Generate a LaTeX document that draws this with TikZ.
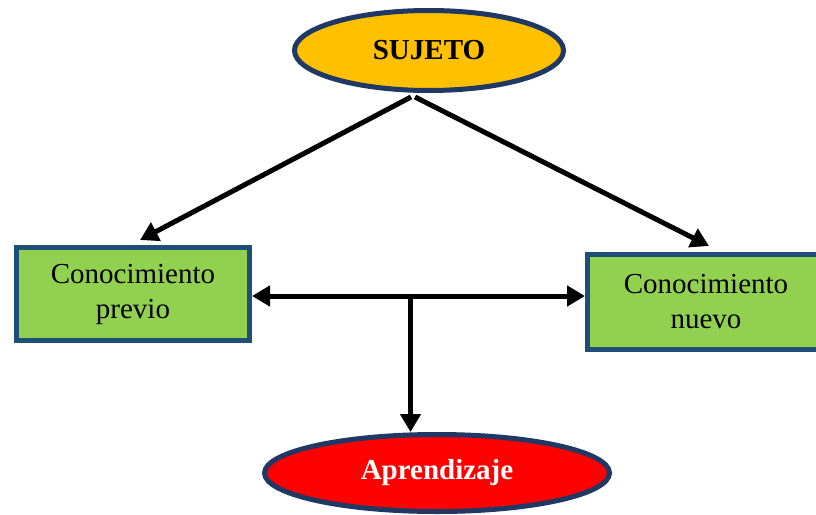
\documentclass[tikz,border=0pt]{standalone}
\usepackage{fontspec}
\setmainfont{Liberation Serif}
\usetikzlibrary{shapes.geometric,arrows.meta}
\definecolor{navyb}{HTML}{203864}
\definecolor{boxb}{HTML}{1F4E79}
\definecolor{gold}{HTML}{FFC000}
\definecolor{grn}{HTML}{92D050}
\definecolor{redf}{HTML}{FF0000}
\begin{document}
\begin{tikzpicture}[x=1pt,y=-1pt,
  ov/.style={ellipse, draw=navyb, line width=5pt, inner sep=0pt, font=\fontsize{29}{35}\selectfont\bfseries},
  bx/.style={rectangle, draw=boxb, fill=grn, line width=5pt, align=center, inner sep=0pt, font=\fontsize{29}{35}\selectfont},
  con/.style={line width=5pt, -{Triangle[length=18pt,width=20pt]}},
  con2/.style={line width=5pt, {Triangle[length=18pt,width=20pt]}-{Triangle[length=18pt,width=20pt]}},
]
\useasboundingbox (0,0) rectangle (816,514);
\clip (0,0) rectangle (816,514);
\fill[white] (0,0) rectangle (816,514);
\node[ov, fill=gold, minimum width=269pt, minimum height=80pt] (s) at (429,50.5) {SUJETO};
\node[bx, minimum width=233pt, minimum height=93pt] (l) at (133,294) {Conocimiento\\previo};
\node[bx, minimum width=237pt, minimum height=95pt] (r) at (706,302) {Conocimiento\\nuevo};
\node[ov, fill=redf, text=white, minimum width=345pt, minimum height=77pt] (a) at (437,473) {Aprendizaje};
\coordinate (j) at (410.5,296);
\draw[con] ([xshift=-18pt,yshift=-4pt]s.south) -- ([xshift=7pt,yshift=5pt]l.north);
\draw[con] ([xshift=-14pt,yshift=-4pt]s.south) -- ([xshift=3pt,yshift=6pt]r.north);
\draw[con2] (j -| l.east) -- (j -| r.west);
\draw[con] (j) -- (j |- a.north);
\end{tikzpicture}
\end{document}
